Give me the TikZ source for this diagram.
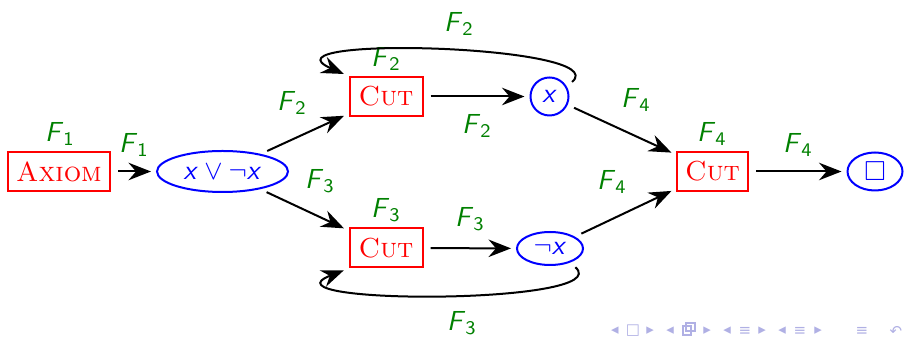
\documentclass[tikz,border=0pt]{standalone}
\usepackage{amssymb}
\usepackage{fontspec}
\newfontfamily\navfont{DejaVu Sans}
\usetikzlibrary{arrows.meta,shapes.geometric}
\definecolor{lblgreen}{RGB}{0,128,0}
\definecolor{navblue}{RGB}{176,176,228}
\newcommand\Fl[1]{\textsf{\textit{F}\textsubscript{#1}}}
\newcommand\vx{\textsf{\textit{x}}}
\begin{document}
\begin{tikzpicture}[x=0.4pt,y=-0.4pt,
  font=\fontsize{11}{13}\selectfont,
  rulebox/.style={draw=red,thick,text=red,rectangle,inner sep=0pt,minimum height=15.6pt,
    font=\fontsize{11}{13}\selectfont\rmfamily\scshape},
  formula/.style={draw=blue,thick,text=blue,ellipse,inner sep=0pt},
  lbl/.style={text=lblgreen,inner sep=0pt},
  arr/.style={thick,-{Stealth[length=9pt,width=7pt,inset=3pt]},shorten <=2.8pt,shorten >=2pt},
  navsym/.style={text=navblue,font=\navfont\fontsize{6}{7}\selectfont,inner sep=0pt}]
\useasboundingbox (0,0) rectangle (904,337);
% nodes
\node[rulebox,minimum width=40.8pt] (ax) at (59,171.5) {Axiom};
\node[formula,minimum width=52.4pt,minimum height=16.4pt] (e) at (222.5,171.5) {$\vx\vee\neg\vx$};
\node[rulebox,minimum width=29.2pt] (c1) at (386,96.5) {Cut};
\node[rulebox,minimum width=29.2pt] (c2) at (386,248) {Cut};
\node[formula,circle,minimum size=15.2pt] (vx) at (549.5,96.5) {\vx};
\node[formula,minimum width=26.4pt,minimum height=13.2pt] (nx) at (550,248.5) {$\neg$\vx};
\node[rulebox,minimum width=28.4pt] (c3) at (712.5,171.5) {Cut};
\node[formula,minimum width=22pt,minimum height=15.2pt] (bx) at (875,171.5) {$\square$};
% labels
\node[lbl] (l1) at (60,134) {\Fl{1}};
\node[lbl] (l2) at (134,145) {\Fl{1}};
\node[lbl] (l3) at (292,103) {\Fl{2}};
\node[lbl] (l4) at (320,181) {\Fl{3}};
\node[lbl] (l5) at (386,59) {\Fl{2}};
\node[lbl] (l6) at (459,24) {\Fl{2}};
\node[lbl] (l7) at (477,126) {\Fl{2}};
\node[lbl] (l8) at (386,210) {\Fl{3}};
\node[lbl] (l9) at (470,219) {\Fl{3}};
\node[lbl] (l10) at (462,323) {\Fl{3}};
\node[lbl] (l11) at (636,100) {\Fl{4}};
\node[lbl] (l12) at (612,182) {\Fl{4}};
\node[lbl] (l13) at (712,134) {\Fl{4}};
\node[lbl] (l14) at (798,145) {\Fl{4}};
% connectors
\draw[arr] (ax) -- (e);
\draw[arr] (e) -- (c1);
\draw[arr] (e) -- (c2);
\draw[arr] (c1) -- (vx);
\draw[arr] (c2) -- (nx);
\draw[arr] (vx) -- (c3);
\draw[arr] (nx) -- (c3);
\draw[arr] (c3) -- (bx);
\draw[arr] (vx.30) .. controls (615,45) and (255,35) .. (c1.north west);
\draw[arr] (nx.-35) .. controls (618,305) and (255,305) .. (c2.south west);
% navigation symbols
\foreach \px/\g [count=\i] in {615/◂,650/▸,670/◂,707/▸,727/◂,745/≡,762/▸,782/◂,800/≡,818/▸,862/≡,896/↶}
  \node[navsym] (nav\i) at (\px,331) {\g};
\node[navsym] (navbox) at (633,331) {□};
\draw[navblue,line width=0.5pt] (683,326) rectangle (691,335) (686,323) rectangle (695,331);
\end{tikzpicture}
\end{document}
